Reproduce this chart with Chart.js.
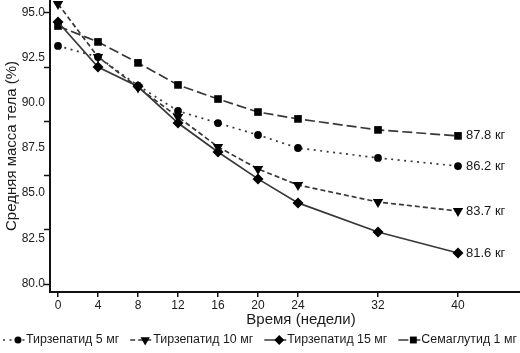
<!DOCTYPE html>
<html><head><meta charset="utf-8">
<script src="https://cdn.jsdelivr.net/npm/chart.js@4/dist/chart.umd.min.js"></script>
<style>html,body{margin:0;padding:0;background:#fff}#wrap{width:520px;height:353px;position:relative}</style>
</head><body><div id="wrap"><canvas id="c" width="520" height="353"></canvas></div>
<script>
const weeks = [0, 4, 8, 12, 16, 20, 24, 32, 40];
const tirz5  = [93.15, 92.54, 90.95, 89.55, 88.88, 88.22, 87.50, 86.95, 86.50];
const tirz10 = [95.47, 92.54, 90.85, 89.22, 87.56, 86.34, 85.45, 84.51, 84.01];
const tirz15 = [94.47, 91.98, 90.90, 88.88, 87.28, 85.79, 84.46, 82.85, 81.69];
const sema1  = [94.25, 93.37, 92.21, 90.99, 90.21, 89.49, 89.11, 88.50, 88.17];
const seriesNames = ['Тирзепатид 5 мг', 'Тирзепатид 10 мг', 'Тирзепатид 15 мг', 'Семаглутид 1 мг'];
const endLabels = ['86.2 кг', '83.7 кг', '81.6 кг', '87.8 кг'];
const xTicks = [0, 4, 8, 12, 16, 20, 24, 32, 40];
const yTicks = [80, 82.5, 85, 87.5, 90, 92.5, 95];
const yTickMarks = [80, 83, 86, 89, 92, 95];
const xTitle = 'Время (недели)';
const yTitle = 'Средняя масса тела (%)';

const FONT = "'Liberation Sans', Arial, sans-serif";
const TXT = '#1a1a1a';
const LINE = '#383838';

const styles = [
  {marker: 'circle', dash: [2, 4.5], radius: 3.9},
  {marker: 'triDown', dash: [5, 3], radius: 6},
  {marker: 'diamond', dash: [], radius: 5.5},
  {marker: 'square', dash: [10, 4], radius: 5.4}
];
const seriesData = [tirz5, tirz10, tirz15, sema1];

function drawMarker(ctx, kind, x, y, r) {
  ctx.beginPath();
  if (kind === 'circle') {
    ctx.arc(x, y, r, 0, Math.PI * 2);
  } else if (kind === 'triDown') {
    const w = r * Math.sqrt(3) / 2;
    ctx.moveTo(x - w, y - r / 2);
    ctx.lineTo(x + w, y - r / 2);
    ctx.lineTo(x, y + r);
    ctx.closePath();
  } else if (kind === 'diamond') {
    ctx.moveTo(x, y - r); ctx.lineTo(x + r, y); ctx.lineTo(x, y + r); ctx.lineTo(x - r, y); ctx.closePath();
  } else {
    const s = r * Math.SQRT1_2;
    ctx.rect(x - s, y - s, 2 * s, 2 * s);
  }
  ctx.fillStyle = '#000';
  ctx.fill();
}

const pointStyleMap = {circle: 'circle', triDown: 'triangle', diamond: 'rectRot', square: 'rect'};

const datasets = seriesData.map((arr, i) => ({
  label: seriesNames[i],
  data: weeks.map((w, j) => ({x: w, y: arr[j]})),
  borderColor: LINE,
  borderWidth: 1.7,
  borderDash: styles[i].dash,
  backgroundColor: '#000',
  pointStyle: pointStyleMap[styles[i].marker],
  rotation: styles[i].marker === 'triDown' ? 180 : 0,
  pointRadius: styles[i].radius,
  pointBackgroundColor: '#000',
  pointBorderColor: '#000',
  pointBorderWidth: 0,
  tension: 0,
  clip: false
}));

const overlay = {
  id: 'overlay',
  afterDatasetsDraw(chart) {
    const ctx = chart.ctx;
    const area = chart.chartArea;
    const ys = chart.scales.y;
    ctx.save();
    ctx.strokeStyle = '#111';
    ctx.lineWidth = 1.5;
    yTickMarks.forEach(v => {
      const py = Math.round(ys.getPixelForValue(v)) + 0.5;
      ctx.beginPath(); ctx.moveTo(area.left - 6, py); ctx.lineTo(area.left, py); ctx.stroke();
    });
    ctx.fillStyle = TXT;
    ctx.font = '13px ' + FONT;
    ctx.textBaseline = 'middle';
    ctx.textAlign = 'left';
    chart.data.datasets.forEach((ds, i) => {
      const meta = chart.getDatasetMeta(i);
      const pt = meta.data[meta.data.length - 1];
      ctx.fillText(endLabels[i], pt.x + 8, pt.y);
    });
    ctx.font = '15px ' + FONT;
    ctx.textAlign = 'center';
    ctx.fillText(xTitle, 301, 320);
    ctx.save();
    ctx.translate(12, (area.top + area.bottom) / 2);
    ctx.rotate(-Math.PI / 2);
    ctx.fillText(yTitle, 0, 0);
    ctx.restore();
    ctx.font = '12px ' + FONT;
    const lineLen = 22, gap = 11, txtGap = 1;
    const widths = seriesNames.map(t => ctx.measureText(t).width);
    const natural = widths.reduce((a, b) => a + b, 0);
    const fixed = 4 * (lineLen + txtGap) + 3 * gap;
    const target = 514;
    const sc = Math.min(1.1, (target - fixed) / natural);
    let x = 3;
    const ly = 340;
    seriesNames.forEach((name, i) => {
      ctx.save();
      ctx.strokeStyle = LINE;
      ctx.lineWidth = 1.5;
      ctx.setLineDash(styles[i].dash);
      ctx.beginPath(); ctx.moveTo(x, ly); ctx.lineTo(x + lineLen, ly); ctx.stroke();
      ctx.restore();
      drawMarker(ctx, styles[i].marker, x + lineLen - 7, ly, styles[i].radius * 0.9);
      ctx.save();
      ctx.translate(x + lineLen + txtGap, ly);
      ctx.scale(sc, 1);
      ctx.fillStyle = TXT;
      ctx.textAlign = 'left';
      ctx.textBaseline = 'middle';
      ctx.fillText(name, 0, 0);
      ctx.restore();
      x += lineLen + txtGap + widths[i] * sc + gap;
    });
    ctx.restore();
  }
};

new Chart(document.getElementById('c'), {
  type: 'line',
  data: {datasets},
  options: {
    responsive: false,
    animation: false,
    layout: {padding: 0, autoPadding: false},
    plugins: {legend: {display: false}, tooltip: {enabled: false}},
    scales: {
      x: {
        type: 'linear', min: -0.8, max: 46.2,
        afterBuildTicks: s => { s.ticks = xTicks.map(v => ({value: v})); },
        afterFit: s => { s.height = 61; s.paddingLeft = 0; s.paddingRight = 0; },
        border: {color: '#111', width: 2},
        grid: {drawOnChartArea: false, drawTicks: true, tickLength: 5, color: '#111', lineWidth: 1.5},
        ticks: {font: {family: FONT, size: 12}, color: TXT, padding: 1, maxRotation: 0, autoSkip: false}
      },
      y: {
        min: 79.53, max: 95.69,
        afterBuildTicks: s => { s.ticks = yTicks.map(v => ({value: v})); },
        afterFit: s => { s.width = 50; s.paddingTop = 0; s.paddingBottom = 0; },
        border: {color: '#111', width: 2},
        grid: {drawOnChartArea: false, drawTicks: false},
        ticks: {font: {family: FONT, size: 12}, color: TXT, padding: 5, callback: v => Number(v).toFixed(1)}
      }
    }
  },
  plugins: [overlay]
});
</script>
</body></html>
